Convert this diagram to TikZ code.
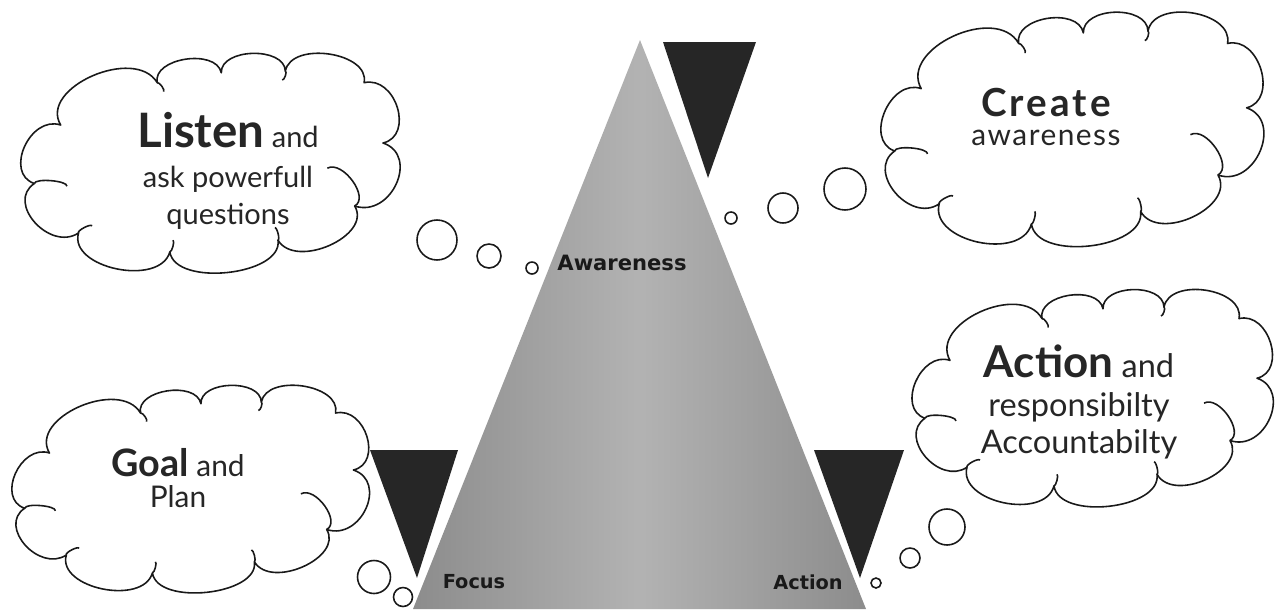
\documentclass[tikz,border=0pt]{standalone}
\usepackage{fontspec}
\setmainfont{Lato}
\newfontfamily\labfont{DejaVu Sans}
\usetikzlibrary{calc}

\tikzset{
  puff/.style={to path={.. controls ($(\tikztostart)!#1!90:(\tikztotarget)$)
                        and ($(\tikztotarget)!#1!-90:(\tikztostart)$) .. (\tikztotarget)}},
  puff/.default=0.45,
  cloudline/.style={draw=black!90, line width=0.9pt, line join=round},
  pics/thought/.style={code={
    \draw[cloudline, fill=white]
      (-172,25) to[puff] (-147,-40) to[puff] (-55,-87)
      to[puff] (6,-98) to[puff] (67,-100) to[puff] (142,-87)
      to[puff] (160,-20) to[puff=0.5] (133,50) to[puff] (60,88)
      to[puff=0.38] (-43,101) to[puff] (-130,80) to[puff=0.5] (-172,25);
    % little curls
    \draw[cloudline] (107,8) to[puff=0.35] (133,50);
    \draw[cloudline] (-172,25) to[puff=0.2] (-141,28);
    \draw[cloudline] (57,74) to[puff=0.15] (60,88);
    \draw[cloudline] (-130,80) to[puff=0.2] (-117,72);
    \draw[cloudline] (-40,88) to[puff=0.15] (-43,101);
    \draw[cloudline] (-55,-87) to[puff=0.2] (-49,-77);
    \draw[cloudline] (67,-100) to[puff=0.2] (64,-90);
  }},
}

\begin{document}
\begin{tikzpicture}[x=0.02cm, y=-0.02cm,
  bub/.style={circle, draw=black!90, line width=0.9pt, fill=white, inner sep=0pt},
  words/.style={align=center, text=black!85, inner sep=0pt},
  lab/.style={font=\labfont\bfseries\fontsize{12}{14}\selectfont, text=black!90},
  dark/.style={fill=black!85},
]
\useasboundingbox (0,0) rectangle (1278,609);

% ---- Clouds -------------------------------------------------------------------
\pic[xscale=1.05, yscale=0.9] (listen) at (215,161) {thought};
\node[words, font=\fontsize{16.5}{21}\selectfont] (listentxt) at (228,171)
  {{\fontsize{27}{28}\selectfont\bfseries Listen} and\\[2pt]ask powerfull\\questions};

\pic[xscale=1.06, yscale=0.96] (create) at (1077,127) {thought};
\node[words, font=\fontsize{17}{22}\selectfont\addfontfeature{LetterSpace=5}] (createtxt) at (1046,117)
  {{\fontsize{22}{24}\selectfont\bfseries\addfontfeature{LetterSpace=8}Create}\\[-5pt]awareness};

\pic[xscale=0.99, yscale=0.85] (goal) at (195,487) {thought};
\node[words, font=\fontsize{17}{22}\selectfont] (goaltxt) at (178,478)
  {{\fontsize{21.5}{24}\selectfont\bfseries Goal} and\\[-4pt]Plan};

\pic[xscale=1.0, yscale=0.89] (action) at (1097,396) {thought};
\node[words, font=\fontsize{18.5}{21}\selectfont] (actiontxt) at (1079,402)
  {{\fontsize{25}{26}\selectfont\bfseries Action} and\\[1pt]responsibilty\\Accountabilty};

% ---- Pyramid ----------------------------------------------------------------
\coordinate (top)   at (640,40);
\coordinate (left)  at (413,609);
\coordinate (right) at (866,609);
\shade[left color=black!45, right color=black!45, middle color=black!30]
  (top) -- (right) -- (left) -- cycle;

\fill[dark] (663,42) -- (756,42) -- (708,178) -- cycle;
\fill[dark] (370,450) -- (458,450) -- (417,578) -- cycle;
\fill[dark] (814,450) -- (904,450) -- (860,578) -- cycle;

\node[lab] (aware) at (622,263) {Awareness};
\node[lab, font=\labfont\bfseries\fontsize{11}{13}\selectfont] (focus) at (474,582) {Focus};
\node[lab, font=\labfont\bfseries\fontsize{11}{13}\selectfont] (act)   at (808,582) {Action};

% ---- Thought bubbles ------------------------------------------------------------
\node[bub, minimum size=0.8cm]  (l1) at (437,240) {};
\node[bub, minimum size=0.48cm] (l2) at (489,256) {};
\node[bub, minimum size=0.24cm] (l3) at (532,268) {};

\node[bub, minimum size=0.84cm] (c1) at (845,189) {};
\node[bub, minimum size=0.6cm]  (c2) at (783,208) {};
\node[bub, minimum size=0.24cm] (c3) at (731,218) {};

\node[bub, minimum size=0.66cm] (g1) at (374,577) {};
\node[bub, minimum size=0.38cm] (g2) at (403,597) {};

\node[bub, minimum size=0.72cm] (a1) at (947,527) {};
\node[bub, minimum size=0.4cm]  (a2) at (910,558) {};
\node[bub, minimum size=0.2cm]  (a3) at (876,583) {};

\end{tikzpicture}
\end{document}
